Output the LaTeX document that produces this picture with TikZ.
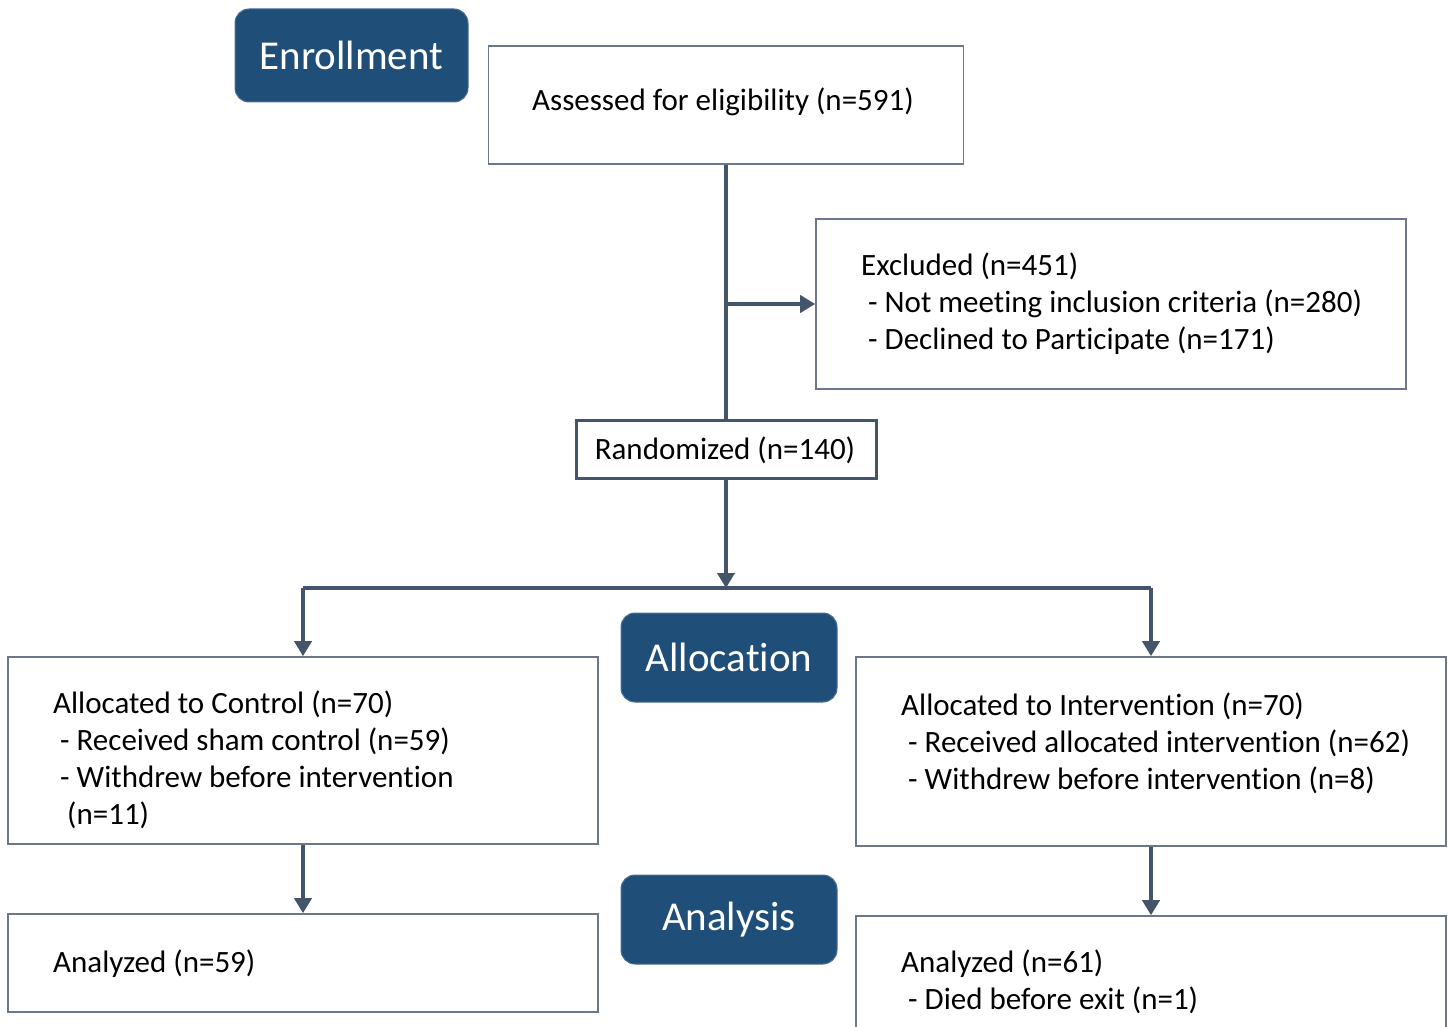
\documentclass[tikz,border=0pt]{standalone}
\usepackage{fontspec}
\setmainfont{Carlito}[Ligatures={NoCommon}]
\usetikzlibrary{arrows.meta,positioning}
\definecolor{titleblue}{HTML}{1F4E79}
\definecolor{linecol}{HTML}{44546A}
\definecolor{boxcol}{HTML}{6B7888}
\tikzset{
  flowbox/.style={draw=boxcol, line width=1.6pt, fill=white, inner sep=0pt, minimum width=#1},
  titlebox/.style={fill=titleblue, draw=titleblue!80!white, line width=1pt, rounded corners=14pt, inner sep=0pt, text=white, font=\fontsize{41}{49}\selectfont},
  txt/.style={anchor=base west, inner sep=0pt, font=\fontsize{31}{37}\selectfont},
  conn/.style={draw=linecol, line width=3.8pt, line join=round},
  arr/.style={conn, -{Triangle[width=17pt,length=15pt]}}
}
\newcommand{\ind}{\hspace*{7pt}}
\begin{document}
\begin{tikzpicture}[x=1pt,y=-1pt]
\useasboundingbox (0,0) rectangle (1448,1027);
\fill[white] (0,0) rectangle (1448,1027);

% title boxes
\node[titlebox, minimum width=233pt, minimum height=93pt] (enroll) at (351.5,55.5) {Enrollment};
\node[titlebox, minimum width=216pt, minimum height=89pt] (alloc) at (729,657.5) {Allocation};
\node[titlebox, minimum width=216pt, minimum height=89pt] (analysis) at (729,919.5) {Analysis};

% flow boxes
\node[flowbox=475pt, minimum height=118pt] (assess) at (726,105) {};
\node[flowbox=590pt, minimum height=170pt] (excl) at (1111,304) {};
\node[flowbox=300pt, minimum height=58pt, draw=linecol, line width=3pt] (rand) at (726,449) {};
\node[flowbox=590pt, minimum height=187pt] (ctrl) at (303,750.5) {};
\node[flowbox=590pt, minimum height=189pt] (intv) at (1151,751.5) {};
\node[flowbox=590pt, minimum height=98pt] (anl) at (303,963) {};
\node[flowbox=590pt, minimum height=150pt] (anr) at (1151,991) {};

% texts
\node[txt, anchor=base] (tassess) at (723,111) {Assessed for eligibility (n=591)};
\node[txt] (tex1) at (861,275) {Excluded (n=451)};
\node[txt] (tex2) at (861,312) {\ind - Not meeting inclusion criteria (n=280)};
\node[txt] (tex3) at (861,349) {\ind - Declined to Participate (n=171)};
\node[txt, anchor=base] (trand) at (725,459) {Randomized (n=140)};
\node[txt] (tc1) at (53,713) {Allocated to Control (n=70)};
\node[txt] (tc2) at (53,750) {\ind - Received sham control (n=59)};
\node[txt] (tc3) at (53,787) {\ind - Withdrew before intervention};
\node[txt] (tc4) at (53,824) {\ind\ind(n=11)};
\node[txt] (ti1) at (901,715) {Allocated to Intervention (n=70)};
\node[txt] (ti2) at (901,752) {\ind - Received allocated intervention (n=62)};
\node[txt] (ti3) at (901,789) {\ind - Withdrew before intervention (n=8)};
\node[txt] (tal) at (53,972) {Analyzed (n=59)};
\node[txt] (tar1) at (901,972) {Analyzed (n=61)};
\node[txt] (tar2) at (901,1009) {\ind - Died before exit (n=1)};

% connectors
\coordinate (branch) at (726,304);
\coordinate (split) at (726,588);
\draw[conn] (assess.south) -- (rand.north);
\draw[arr] (branch) -- (excl.west);
\draw[arr] (rand.south) -- (split);
\draw[conn] (ctrl.north |- split) -- (intv.north |- split);
\draw[arr] (ctrl.north |- split) -- (ctrl.north);
\draw[arr] (intv.north |- split) -- (intv.north);
\draw[arr] (ctrl.south) -- (anl.north);
\draw[arr] (intv.south) -- (anr.north);
\end{tikzpicture}
\end{document}
